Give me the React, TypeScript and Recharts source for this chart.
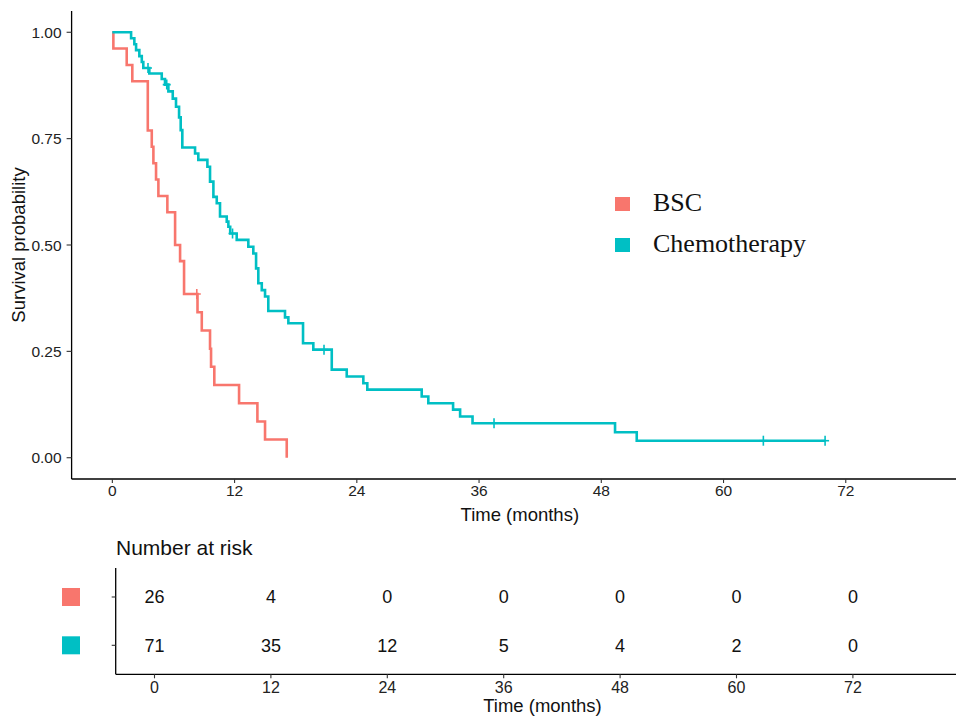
import React from 'react';
import { ComposedChart, Line, Scatter, XAxis, YAxis, Legend, Label } from 'recharts';

const RED = '#F8766D';
const TEAL = '#00BFC4';
const SANS = '"Liberation Sans", Arial, Helvetica, sans-serif';
const SERIF = '"Liberation Serif", "Times New Roman", serif';

const groupNames = ['BSC', 'Chemotherapy'];
const timeTicks = [0, 12, 24, 36, 48, 60, 72];
const survTicks = [0, 0.25, 0.5, 0.75, 1];

const bscTime = [0, 0.1, 1.41, 1.96, 3.48, 3.87, 4.03, 4.29, 4.52, 5.4, 6.16, 6.65, 7.04, 8.36, 8.78, 9.59, 9.69, 10.01, 12.44, 14.24, 14.99, 17.12];
const bscSurv = [1, 0.962, 0.923, 0.885, 0.769, 0.731, 0.692, 0.654, 0.615, 0.577, 0.5, 0.462, 0.385, 0.342, 0.299, 0.256, 0.214, 0.171, 0.128, 0.085, 0.043, 0];
const bscCensorTime = [8.29];
const bscCensorSurv = [0.385];

const chemoTime = [0, 1.84, 2.16, 2.33, 2.65, 2.89, 3.04, 3.63, 4.85, 5.17, 5.5, 5.93, 6.25, 6.55, 6.71, 6.87, 8.12, 8.44, 9.33, 9.59, 9.92, 10.25, 10.57, 11.23, 11.39, 11.57, 12.21, 13.35, 13.84, 14.11, 14.33, 14.67, 14.99, 15.31, 16.95, 17.28, 18.72, 19.73, 21.54, 23.01, 24.64, 25.03, 30.37, 31.02, 33.45, 34.14, 35.36, 49.35, 51.48, 69.97];
const chemoSurv = [1, 0.986, 0.972, 0.958, 0.944, 0.93, 0.916, 0.903, 0.89, 0.877, 0.861, 0.844, 0.825, 0.8, 0.77, 0.729, 0.715, 0.7, 0.684, 0.649, 0.613, 0.598, 0.567, 0.555, 0.543, 0.527, 0.512, 0.496, 0.48, 0.445, 0.41, 0.394, 0.379, 0.345, 0.33, 0.316, 0.269, 0.254, 0.207, 0.191, 0.175, 0.16, 0.144, 0.128, 0.113, 0.097, 0.081, 0.06, 0.04, 0.04];
const chemoCensorTime = [3.5, 5.34, 11.8, 20.78, 37.47, 63.91, 69.97];
const chemoCensorSurv = [0.916, 0.877, 0.527, 0.254, 0.081, 0.04, 0.04];

const riskTimes = [0, 12, 24, 36, 48, 60, 72];
const bscRisk = [26, 4, 0, 0, 0, 0, 0];
const chemoRisk = [71, 35, 12, 5, 4, 2, 0];

const zipCurve = (ts: number[], ss: number[]) => ts.map((t, i) => ({ t, s: ss[i] }));
const bscData = zipCurve(bscTime, bscSurv);
const chemoData = zipCurve(chemoTime, chemoSurv);
const bscCensor = zipCurve(bscCensorTime, bscCensorSurv);
const chemoCensor = zipCurve(chemoCensorTime, chemoCensorSurv);
const bscRiskData = riskTimes.map((t, i) => ({ t, row: 2, n: bscRisk[i] }));
const chemoRiskData = riskTimes.map((t, i) => ({ t, row: 1, n: chemoRisk[i] }));

const plusShape = (color: string) => (p: any) => (
  <g>
    <line x1={p.cx} x2={p.cx} y1={p.cy - 5} y2={p.cy + 5} stroke={color} strokeWidth={1.6} />
    <line x1={p.cx - 4} x2={p.cx + 4} y1={p.cy} y2={p.cy} stroke={color} strokeWidth={1.6} />
  </g>
);

const numShape = (p: any) => (
  <text x={p.cx} y={p.cy} dy="0.35em" textAnchor="middle" fontSize={18} fontFamily={SANS} fill="#111">
    {p.payload.n}
  </text>
);

const squareTick = (p: any) => (
  <rect x={62} y={p.y - 9} width={18} height={18} fill={p.payload.value === 2 ? RED : TEAL} />
);

const LegendContent = () => (
  <div style={{ position: 'relative', width: 0, height: 0 }}>
    {groupNames.map((name, i) => (
      <div key={name}>
        <div style={{ position: 'absolute', left: 615, top: 197 + i * 41, width: 15, height: 14, background: i === 0 ? RED : TEAL }} />
        <div style={{ position: 'absolute', left: 653, top: 190 + i * 41, fontFamily: SERIF, fontSize: 26, lineHeight: '26px', color: '#111', whiteSpace: 'nowrap' }}>
          {name}
        </div>
      </div>
    ))}
  </div>
);

const axisLine = { stroke: '#000', strokeWidth: 1.3 };
const tickLine = { stroke: '#333', strokeWidth: 1.1 };

export default function App() {
  return (
    <div style={{ position: 'absolute', left: 0, top: 0, width: 956, height: 717, overflow: 'hidden', background: '#fff' }}>
      <div style={{ position: 'absolute', left: 0, top: 0 }}>
        <ComposedChart width={968} height={530} margin={{ top: 11, right: 0, bottom: 0, left: 0 }}>
          <XAxis
            type="number"
            dataKey="t"
            domain={[-4, 84]}
            ticks={timeTicks}
            allowDataOverflow
            height={51}
            tickSize={4}
            tickMargin={2}
            axisLine={axisLine}
            tickLine={tickLine}
            tick={{ fill: '#222', fontSize: 15.5, fontFamily: SANS }}
          >
            <Label
              content={(props: any) => {
                const vb = props.viewBox || {};
                return (
                  <text x={vb.x + vb.width / 2} y={515} dy="0.35em" textAnchor="middle" fontSize={18.5} fontFamily={SANS} fill="#111">
                    Time (months)
                  </text>
                );
              }}
            />
          </XAxis>
          <YAxis
            type="number"
            dataKey="s"
            domain={[-0.05, 1.05]}
            ticks={survTicks}
            allowDataOverflow
            width={71.6}
            tickSize={5}
            tickMargin={5}
            tickFormatter={(v: number) => v.toFixed(2)}
            axisLine={axisLine}
            tickLine={tickLine}
            tick={{ fill: '#222', fontSize: 15.5, fontFamily: SANS }}
          >
            <Label
              content={() => (
                <text x={19} y={245} dy="0.35em" transform="rotate(-90 19 245)" textAnchor="middle" fontSize={18.5} fontFamily={SANS} fill="#111">
                  Survival probability
                </text>
              )}
            />
          </YAxis>
          <Legend layout="horizontal" align="center" verticalAlign="middle" content={<LegendContent />} wrapperStyle={{ left: 0, top: 0, width: 0, height: 0 }} />
          <Line name="BSC" data={bscData} dataKey="s" type="stepAfter" stroke={RED} strokeWidth={2.6} dot={false} isAnimationActive={false} legendType="square" />
          <Line name="Chemotherapy" data={chemoData} dataKey="s" type="stepAfter" stroke={TEAL} strokeWidth={2.6} dot={false} isAnimationActive={false} legendType="square" />
          <Scatter data={bscCensor} dataKey="s" fill={RED} shape={plusShape(RED)} isAnimationActive={false} legendType="none" />
          <Scatter data={chemoCensor} dataKey="s" fill={TEAL} shape={plusShape(TEAL)} isAnimationActive={false} legendType="none" />
        </ComposedChart>
      </div>
      <div style={{ position: 'absolute', left: 116, top: 537, fontFamily: SANS, fontSize: 21, lineHeight: '21px', color: '#111', whiteSpace: 'nowrap' }}>
        Number at risk
      </div>
      <div style={{ position: 'absolute', left: 0, top: 530 }}>
        <ComposedChart width={969.3} height={187} margin={{ top: 38, right: 0, bottom: 0, left: 0 }}>
          <XAxis
            type="number"
            dataKey="t"
            domain={[-4, 84]}
            ticks={timeTicks}
            allowDataOverflow
            height={42.7}
            tickSize={4}
            tickMargin={3}
            axisLine={axisLine}
            tickLine={tickLine}
            tick={{ fill: '#222', fontSize: 16, fontFamily: SANS }}
          >
            <Label
              content={(props: any) => {
                const vb = props.viewBox || {};
                return (
                  <text x={vb.x + vb.width / 2} y={176} dy="0.35em" textAnchor="middle" fontSize={18.5} fontFamily={SANS} fill="#111">
                    Time (months)
                  </text>
                );
              }}
            />
          </XAxis>
          <YAxis
            type="number"
            dataKey="row"
            domain={[0.4, 2.6]}
            ticks={[1, 2]}
            width={115.7}
            tickSize={4}
            axisLine={axisLine}
            tickLine={tickLine}
            tick={squareTick}
          />
          <Scatter data={bscRiskData} dataKey="row" fill="#111" shape={numShape} isAnimationActive={false} />
          <Scatter data={chemoRiskData} dataKey="row" fill="#111" shape={numShape} isAnimationActive={false} />
        </ComposedChart>
      </div>
    </div>
  );
}
